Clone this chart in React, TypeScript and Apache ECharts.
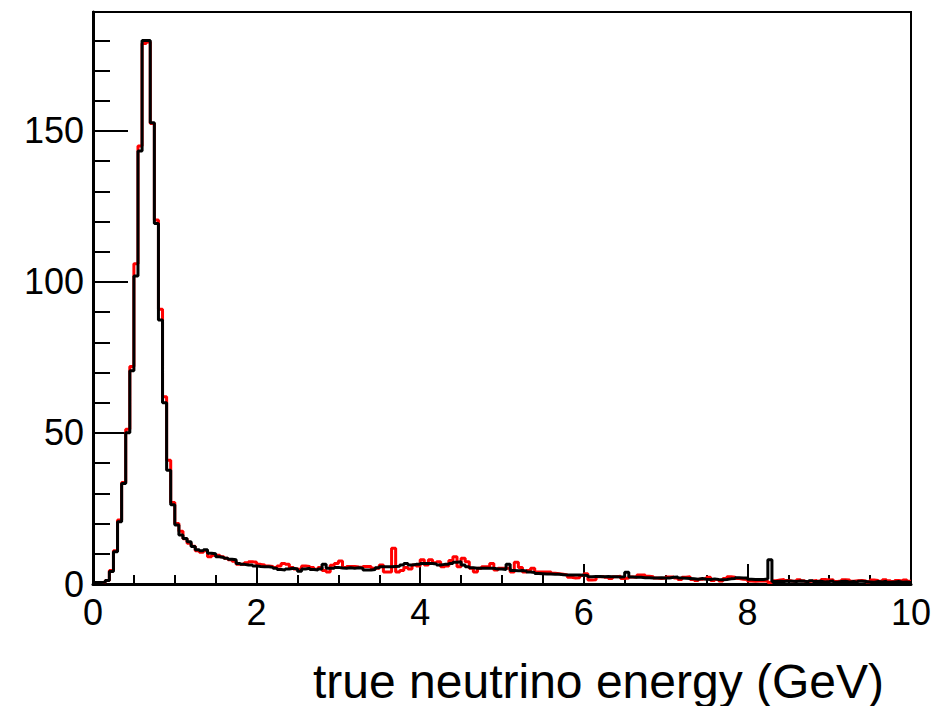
import React, { useEffect, useRef } from "react";
import * as echarts from "echarts";

const BIN_WIDTH = 0.05;
const X_MIN = 0;
const X_MAX = 10;
const X_INTERVAL = 2;
const Y_MAX = 189.4;
const Y_LABEL_STEP = 50;
const Y_MINOR_STEP = 10;
const X_TITLE = "true neutrino energy (GeV)";

// black histogram, 200 bins of 0.05 GeV
const BLACK = [
  0.5, 0.5, 0.6, 1.2, 4.1, 10.7, 20.6, 33.3, 50.1, 70.6,
  102, 143.4, 180, 180, 152.7, 119.4, 87.4, 60, 37.7, 26.2,
  19.5, 16.2, 15.1, 14, 12.4, 11.3, 11, 11.3, 10.2, 10,
  9, 8.8, 8.5, 8.2, 8, 6.8, 6.5, 6.3, 6.3, 6,
  5.8, 5.7, 5.7, 5.5, 5.2, 4.8, 4.6, 5, 5.2, 5,
  4.2, 5, 5.2, 4.8, 4.6, 5, 6.5, 5.2, 5.2, 5.5,
  5.3, 5.2, 5.4, 5.2, 5.4, 5.2, 4.6, 4.6, 4.8, 5.4,
  5.7, 5.7, 5.7, 5.8, 5.9, 6.3, 6.8, 6.3, 6.5, 6.5,
  6.8, 6.8, 6.8, 6.6, 6.3, 6.5, 6.5, 6.8, 7.2, 7.4,
  6.3, 5.7, 5.4, 5.2, 5.2, 5.2, 5.2, 5.2, 5.0, 5.0,
  4.8, 6.5, 4.5, 4.4, 4.5, 4.3, 4.0, 3.8, 3.5, 3.4,
  3.3, 3.3, 3.2, 3.2, 3.1, 3.0, 3.0, 3.0, 3.0, 2.9,
  2.8, 2.4, 2.5, 2.5, 2.4, 2.5, 2.4, 2.4, 2.3, 2.4,
  3.9, 2.3, 2.2, 2.2, 2.1, 2.1, 2.0, 2.0, 2.1, 2.0,
  2.0, 2.2, 2.3, 2.0, 1.9, 1.8, 1.7, 1.6, 1.8, 1.6,
  1.5, 1.7, 1.5, 1.4, 1.5, 1.7, 1.8, 2.1, 2.0, 2.0,
  1.6, 1.5, 1.5, 1.5, 1.7, 8.0, 0.8, 0.9, 0.8, 1.0,
  0.9, 0.8, 1.0, 0.9, 0.7, 1.1, 0.8, 0.9, 0.7, 0.8,
  1.0, 0.6, 0.8, 0.9, 0.7, 0.8, 0.6, 0.9, 0.8, 0.7,
  0.6, 0.8, 0.7, 0.9, 0.6, 0.7, 0.8, 0.6, 0.7, 0.5,
];

// red histogram, 200 bins of 0.05 GeV
const RED = [
  0.5, 0.5, 0.6, 1.2, 4.5, 11, 21.2, 33.6, 51.2, 72,
  106, 145, 179, 179.5, 152.5, 120.5, 91, 62, 41, 27,
  20, 17.5, 15, 13.5, 12.5, 11, 10.5, 11, 9, 9.5,
  9.5, 9, 8.5, 8, 7.5, 6.5, 6.5, 7, 7.4, 7.2,
  6.5, 6.3, 6, 5.8, 5.5, 6, 6.8, 6.5, 5.5, 5,
  4.8, 6, 5.8, 5.5, 4.8, 5.5, 4.5, 4, 6.2, 6.8,
  7.6, 5.5, 5.8, 5.8, 5.6, 5.5, 5.8, 5.8, 5.2, 5.2,
  6.3, 4.0, 4.0, 11.8, 4.0, 4.5, 5.5, 5.0, 6.3, 6.0,
  8.0, 6.3, 8.0, 7.0, 7.4, 5.7, 6.0, 7.8, 9.0, 5.7,
  8.5, 7.4, 5.2, 4.0, 5.2, 5.7, 5.7, 6.8, 4.6, 5.2,
  5.2, 5.2, 4.0, 7.2, 5.5, 4.0, 4.5, 5.2, 4.0, 4.0,
  4.0, 4.0, 3.6, 3.4, 3.2, 3.0, 2.2, 2.0, 2.1, 2.8,
  3.4, 1.3, 1.4, 2.4, 2.5, 2.2, 1.8, 2.4, 2.6, 1.8,
  2.0, 2.3, 2.2, 3.0, 3.0, 2.6, 2.4, 2.0, 1.8, 2.0,
  2.3, 2.3, 2.0, 1.5, 2.2, 2.4, 1.5, 1.2, 1.6, 1.8,
  2.2, 1.2, 1.5, 1.0, 1.8, 2.4, 2.2, 1.8, 1.6, 1.5,
  1.0, 0.9, 1.0, 1.0, 1.0, 0.5, 1.1, 1.3, 1.5, 1.2,
  1.0, 0.9, 1.4, 1.1, 0.8, 1.0, 1.2, 0.9, 1.5, 1.3,
  1.4, 0.8, 1.0, 1.4, 1.3, 0.9, 1.1, 1.2, 1.0, 0.7,
  1.3, 1.2, 0.9, 1.4, 1.1, 0.8, 1.2, 1.0, 1.3, 0.9,
];

function toSteps(vals: number[]): number[][] {
  const pts = vals.map((v, i) => [+(X_MIN + i * BIN_WIDTH).toFixed(3), v]);
  pts.push([X_MAX, vals[vals.length - 1]]);
  return pts;
}

const FONT = "Liberation Sans";

export default function App() {
  const ref = useRef<HTMLDivElement>(null);
  useEffect(() => {
    if (!ref.current) return;
    const chart = echarts.init(ref.current, undefined, { renderer: "svg" });
    const tickStyle = { color: "#000", width: 2 };
    chart.setOption({
      animation: false,
      backgroundColor: "#fff",
      grid: {
        left: 93,
        top: 12,
        width: 818,
        height: 572,
        show: true,
        borderColor: "#000",
        borderWidth: 2,
        backgroundColor: "transparent",
      },
      xAxis: {
        type: "value",
        min: X_MIN,
        max: X_MAX,
        interval: X_INTERVAL,
        axisLine: { show: true, onZero: false, lineStyle: { color: "#000", width: 3 } },
        axisTick: { show: true, inside: true, length: 20, lineStyle: tickStyle },
        minorTick: { show: true, splitNumber: 4, length: 9, lineStyle: tickStyle },
        splitLine: { show: false },
        minorSplitLine: { show: false },
        axisLabel: { color: "#000", fontSize: 36, fontFamily: FONT, margin: 10 },
      },
      yAxis: [
        {
          type: "value",
          min: 0,
          max: Y_MAX,
          interval: Y_MINOR_STEP,
          position: "left",
          axisLine: { show: true, onZero: false, lineStyle: { color: "#000", width: 3 } },
          axisTick: { show: true, inside: true, length: 17, lineStyle: tickStyle },
          axisLabel: { show: false },
          splitLine: { show: false },
        },
        {
          type: "value",
          min: 0,
          max: Y_MAX,
          interval: Y_LABEL_STEP,
          position: "left",
          axisLine: { show: false },
          axisTick: { show: true, inside: true, length: 35, lineStyle: tickStyle },
          axisLabel: {
            color: "#000",
            fontSize: 36,
            fontFamily: FONT,
            margin: 9,
            formatter: (v: number) => (v % Y_LABEL_STEP === 0 ? String(v) : ""),
          },
          splitLine: { show: false },
        },
      ],
      graphic: [
        {
          type: "text",
          x: 884,
          y: 681,
          style: {
            text: X_TITLE,
            fontSize: 48,
            fontFamily: FONT,
            fill: "#000",
            align: "right",
            verticalAlign: "middle",
            textAlign: "right",
            textVerticalAlign: "middle",
          },
        },
      ],
      series: [
        {
          type: "line",
          name: "red",
          yAxisIndex: 0,
          step: "end",
          showSymbol: false,
          symbol: "none",
          data: toSteps(RED),
          lineStyle: { color: "#ff0000", width: 3 },
          clip: true,
          z: 2,
        },
        {
          type: "line",
          name: "black",
          yAxisIndex: 0,
          step: "end",
          showSymbol: false,
          symbol: "none",
          data: toSteps(BLACK),
          lineStyle: { color: "#000000", width: 3 },
          clip: true,
          z: 3,
        },
      ],
    });
    return () => chart.dispose();
  }, []);
  return (
    <div
      ref={ref}
      style={{ position: "fixed", left: 0, top: 0, width: 936, height: 706, background: "#fff" }}
    />
  );
}
